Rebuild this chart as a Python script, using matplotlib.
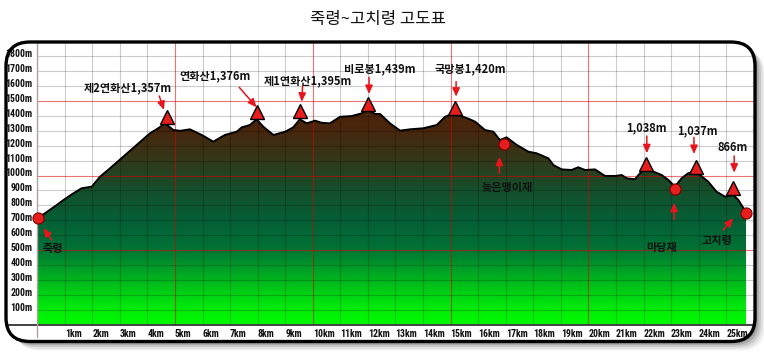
import numpy as np
import matplotlib.pyplot as plt
from matplotlib.patches import FancyBboxPatch, Polygon
from matplotlib.colors import LinearSegmentedColormap
from matplotlib.transforms import ScaledTranslation
from matplotlib import font_manager

# elevation profile, km along the ridge / metres
profile_km = [0.0, 0.28, 0.71, 0.95, 1.31, 1.61, 1.98, 2.28, 2.64, 3.12, 3.61, 4.09, 4.39, 4.64,
              4.94, 5.2, 5.54, 5.97, 6.39, 6.81, 7.24, 7.42, 7.72, 7.96, 8.2, 8.57, 9.0, 9.29,
              9.53, 9.78, 10.08, 10.32, 10.62, 10.99, 11.41, 11.77, 12.01, 12.26, 12.44, 12.8,
              13.17, 13.53, 14.01, 14.5, 14.8, 15.1, 15.46, 15.7, 15.89, 16.25, 16.55, 16.79,
              17.03, 17.4, 17.82, 18.12, 18.55, 18.73, 19.03, 19.39, 19.63, 19.88, 20.24, 20.6,
              20.97, 21.21, 21.39, 21.69, 21.87, 22.05, 22.36, 22.66, 22.9, 23.14, 23.38, 23.62,
              23.87, 24.05, 24.35, 24.65, 24.96, 25.26, 25.44, 25.72]
profile_m = [712, 746, 802, 835, 880, 914, 925, 992, 1048, 1126, 1205, 1283, 1317, 1350,
             1305, 1300, 1310, 1272, 1227, 1272, 1294, 1323, 1339, 1377, 1328, 1272, 1294, 1323,
             1377, 1350, 1368, 1354, 1350, 1394, 1399, 1417, 1440, 1413, 1413, 1350,
             1301, 1310, 1317, 1339, 1394, 1417, 1394, 1377, 1361, 1305, 1294, 1238,
             1256, 1205, 1160, 1149, 1115, 1070, 1041, 1037, 1055, 1037, 1041, 997,
             997, 1003, 981, 975, 1015, 1041, 1026, 1003, 970, 925, 981, 1015,
             1026, 1003, 958, 891, 858, 869, 836, 753]

# summits (triangles)
peak_names = ['제2연화산1,357m', '연화산1,376m', '제1연화산1,395m', '비로봉1,439m', '국망봉1,420m',
              '1,038m', '1,037m', '866m']
peak_km = [4.70, 7.99, 9.54, 12.01, 15.16, 22.08, 23.89, 25.26]
peak_m = [1391, 1428, 1433, 1480, 1455, 1077, 1059, 914]

# passes (circles)
pass_names = ['죽령', '늦은맹이재', '마당재', '고치령']
pass_km = [0.02, 16.95, 23.15, 25.72]
pass_m = [713, 1209, 907, 746]

# label offsets from the marker: (text dx, text dy, arrow tail dx, dy, arrow head dx, dy)
peak_layout = [(-1.40, 197, -0.27, 142, -0.10, 49),
               (-1.54, 240, -0.66, 164, -0.03, 30),
               (0.29, 201, 0.09, 168, 0.06, 62),
               (0.43, 235, 0.03, 179, 0.03, 67),
               (0.56, 258, 0.04, 175, 0.04, 74),
               (0.04, 246, 0.04, 188, 0.04, 72),
               (0.06, 242, -0.06, 197, -0.06, 85),
               (-0.03, 275, 0.03, 217, 0.03, 105)]
pass_layout = [(0.56, -202, 0.51, -146, 0.20, -67),
               (0.12, -288, -0.18, -194, -0.18, -83),
               (-0.49, -392, -0.04, -201, -0.04, -90),
               (-1.07, -179, -0.83, -112, -0.47, -33)]

KR = ['Noto Sans CJK KR', 'DejaVu Sans']
names = {f.name for f in font_manager.fontManager.ttflist}
narrow = [n for n in ['Liberation Sans Narrow', 'DejaVu Sans Condensed', 'Roboto Condensed',
                      'Open Sans Condensed', 'Noto Sans Condensed'] if n in names]
if narrow:
    NUM, NUM_SIZE = narrow[0], 7
else:
    NUM, NUM_SIZE = 'DejaVu Sans', 6.5

W, H = 764, 358
PX_KM, PX_M = 27.56, 14.9 / 100
X0, Y0 = 37.2, 324.5
fig = plt.figure(figsize=(W / 100, H / 100), dpi=100)

bg = fig.add_axes([0, 0, 1, 1], zorder=0)
bg.set_xlim(0, W)
bg.set_ylim(H, 0)
bg.axis('off')
box = dict(boxstyle='round,pad=0,rounding_size=24')
for off, a in [(10, 0.05), (8, 0.07), (6, 0.1), (4, 0.14), (2, 0.2)]:
    bg.add_patch(FancyBboxPatch((6 + off, 42 + off * 0.9), 749, 299.5, fc='black', ec='none', alpha=a, **box))
frame = FancyBboxPatch((6, 42), 749, 299.5, fc='white', ec='none', **box)
bg.add_patch(frame)

ax = fig.add_axes([X0 / W, 1 - Y0 / H, (755 - X0) / W, (Y0 - 42) / H], zorder=1)
xmax = (755 - X0) / PX_KM
ymax = (Y0 - 42) / PX_M
ax.set_xlim(0, xmax)
ax.set_ylim(0, ymax)
ax.patch.set_visible(False)
for s in ax.spines.values():
    s.set_visible(False)

# altitude gradient clipped to the profile
cmap = LinearSegmentedColormap.from_list('alt', [
    (0.0, (0.0, 0.98, 0.0)), (100 / 1500, (0.0, 0.92, 0.04)), (200 / 1500, (0.0, 0.82, 0.08)),
    (300 / 1500, (0.0, 0.70, 0.12)), (400 / 1500, (0.0, 0.58, 0.17)), (500 / 1500, (0.0, 0.45, 0.21)),
    (700 / 1500, (0.02, 0.37, 0.21)), (900 / 1500, (0.08, 0.31, 0.17)), (1100 / 1500, (0.2, 0.22, 0.1)),
    (1300 / 1500, (0.28, 0.15, 0.05)), (1.0, (0.30, 0.13, 0.03))])
grad = np.linspace(0, 1, 300).reshape(-1, 1)
im = ax.imshow(grad, extent=[0, xmax, 0, 1500], origin='lower', aspect='auto', cmap=cmap, zorder=1)
verts = list(zip(profile_km, profile_m)) + [(profile_km[-1], 0), (profile_km[0], 0)]
poly = Polygon(verts, closed=True, fc='none', ec='none')
ax.add_patch(poly)
im.set_clip_path(poly)

grid = []
for k in range(0, 27):
    red = k in (5, 10, 15, 20)
    grid.append(ax.axvline(k, color='#e00000' if red else 'black', alpha=0.55 if red else 0.2, lw=0.8, zorder=3))
for h in range(100, 1900, 100):
    red = h in (500, 1000, 1500)
    grid.append(ax.axhline(h, color='#e00000' if red else 'black', alpha=0.55 if red else 0.2, lw=0.8, zorder=3))
for g in grid:
    g.set_clip_path(frame)

ax.plot(profile_km, profile_m, color='black', lw=1.4, zorder=4)
ax.axhline(0, xmin=-0.04, color='#222222', lw=1.2, clip_on=False, zorder=4)
ax.axvline(0, ymin=-0.044, color='#b0a0a0', lw=1.0, clip_on=False, zorder=4)

ax.set_yticks(range(100, 1900, 100))
ax.set_yticklabels([f'{h}m' for h in range(100, 1900, 100)])
ax.set_xticks(range(1, 26))
ax.set_xticklabels([f'{k}km' for k in range(1, 26)])
ax.tick_params(length=0, labelsize=NUM_SIZE, pad=3.5)
for lab in ax.get_yticklabels() + ax.get_xticklabels():
    lab.set_fontfamily(NUM)
    lab.set_fontweight('bold')
    lab.set_fontstretch('condensed')
    lab.set_color('#111111')
for lab in ax.get_yticklabels():
    lab.set_transform(lab.get_transform() + ScaledTranslation(0, 3 / 100, fig.dpi_scale_trans))
for lab in ax.get_xticklabels():
    lab.set_ha('left')

arrow = dict(arrowstyle='-|>,head_length=0.5,head_width=0.22', color='#e8141c', lw=1.1, shrinkA=0, shrinkB=0)

ax.plot(peak_km, peak_m, '^', ms=9.5, mfc='#e61e1e', mec='black', mew=1, zorder=6, clip_on=False)
ax.plot(pass_km, pass_m, 'o', ms=8, mfc='#e61e1e', mec='#7a0000', mew=0.8, zorder=6, clip_on=False)

for names_, kms, ms_, lay in [(peak_names, peak_km, peak_m, peak_layout),
                              (pass_names, pass_km, pass_m, pass_layout)]:
    for name, k, m, (tx, ty, ax_, ay, hx, hy) in zip(names_, kms, ms_, lay):
        ax.text(k + tx, m + ty, name, ha='center', va='center', fontsize=8, family=KR,
                weight='bold', color='#111111', zorder=7)
        ax.annotate('', xy=(k + hx, m + hy), xytext=(k + ax_, m + ay), arrowprops=arrow, zorder=7)

fig.text(378 / W, 1 - 19.5 / H, '죽령~고치령 고도표', ha='center', va='center', fontsize=12,
         family=KR, weight='medium', color='#111111')

ov = fig.add_axes([0, 0, 1, 1], zorder=5)
ov.set_xlim(0, W)
ov.set_ylim(H, 0)
ov.axis('off')
ov.add_patch(FancyBboxPatch((6, 42), 749, 299.5, fc='none', ec='black', lw=2.4, **box))

fig.savefig('out.png', dpi=100)
